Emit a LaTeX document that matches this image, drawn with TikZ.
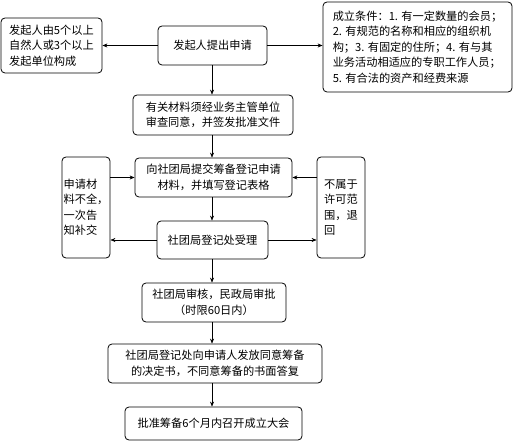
\documentclass[tikz,border=0pt]{standalone}
\usepackage{fontspec}
\setmainfont{Noto Sans CJK SC}
\usetikzlibrary{arrows.meta}
\begin{document}
\begin{tikzpicture}[x=1pt,y=-1pt,
  box/.style={draw,line width=0.8pt,rounded corners=4pt,inner sep=0pt,
    font=\fontsize{11.2}{15.5}\selectfont,align=center},
  lbox/.style={box,align=left},
  arr/.style={line width=0.6pt,-{Stealth[length=5pt,width=4pt]}}]
\useasboundingbox (0,0) rectangle (516,446);
\node[box,minimum width=109pt,minimum height=39pt] (n1) at (212.5,45.5) {发起人提出申请};
\node[lbox,minimum width=101pt,minimum height=55pt] (nl) at (51.5,45.5) {发起人由5个以上\\自然人或3个以上\\发起单位构成};
\node[lbox,minimum width=189pt,minimum height=90pt] (nr) at (417.5,47) {成立条件：1. 有一定数量的会员；\\2. 有规范的名称和相应的组织机\\构；3. 有固定的住所；4. 有与其\\业务活动相适应的专职工作人员；\\5. 有合法的资产和经费来源};
\node[box,minimum width=160pt,minimum height=40pt] (n2) at (213,115) {有关材料须经业务主管单位\\审查同意，并签发批准文件};
\node[box,minimum width=157pt,minimum height=39pt] (n3) at (213.5,177.5) {向社团局提交筹备登记申请\\材料，并填写登记表格};
\node[box,minimum width=111pt,minimum height=38pt] (n4) at (212.5,240) {社团局登记处受理};
\node[lbox,minimum width=48pt,minimum height=101pt] (sl) at (86,207.5) {申请材\\料不全，\\一次告\\知补交};
\node[lbox,minimum width=48pt,minimum height=101pt] (sr) at (341,207.5) {不属于\\许可范\\围，退\\回};
\node[box,minimum width=144pt,minimum height=39pt] (n5) at (214,302.5) {社团局审核，民政局审批\\（时限60日内）};
\node[box,minimum width=214pt,minimum height=39pt] (n6) at (215,363.5) {社团局登记处向申请人发放同意筹备\\的决定书，不同意筹备的书面答复};
\node[box,minimum width=177pt,minimum height=33pt] (n7) at (213.5,423.5) {批准筹备6个月内召开成立大会};
\coordinate (vx) at (212,0);
\draw[arr] (n1.west) -- (n1.west -| nl.east);
\draw[arr] (n1.east) -- (n1.east -| nr.west);
\draw[arr] (vx |- n1.south) -- (vx |- n2.north);
\draw[arr] (vx |- n2.south) -- (vx |- n3.north);
\draw[arr] (vx |- n3.south) -- (vx |- n4.north);
\draw[arr] (vx |- n4.south) -- (vx |- n5.north);
\draw[arr] (vx |- n5.south) -- (vx |- n6.north);
\draw[arr] (vx |- n6.south) -- (vx |- n7.north);
\draw[arr] (sl.east |- n3.west) -- (n3.west);
\draw[arr] (sr.west |- n3.east) -- (n3.east);
\draw[arr] (n4.west) -- (n4.west -| sl.east);
\draw[arr] (n4.east) -- (n4.east -| sr.west);
\end{tikzpicture}
\end{document}
